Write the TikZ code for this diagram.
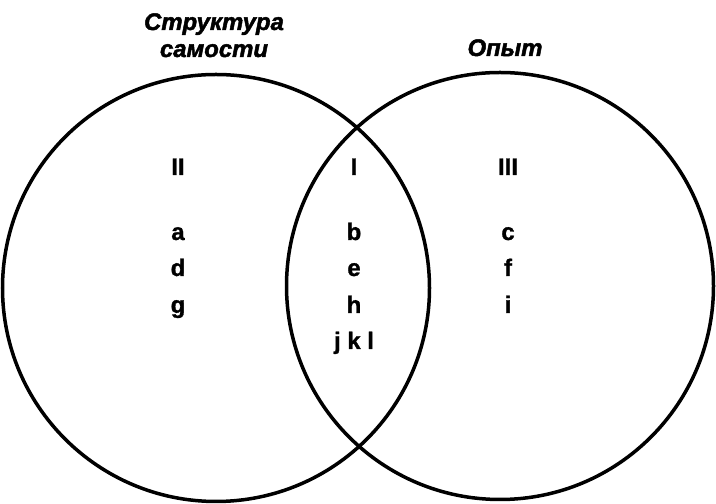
\documentclass[tikz,border=0pt]{standalone}
\usepackage{fontspec}
\setmainfont{Liberation Sans}
\newfontfamily\lblfont[FakeBold=1.2]{Liberation Sans Bold}
\newfontfamily\ttlfont[FakeBold=2]{Liberation Sans Bold Italic}

\tikzset{
  lbl/.style={font=\lblfont\fontsize{24}{28}\selectfont, anchor=base, inner sep=0pt},
  ttl/.style={font=\ttlfont\fontsize{24}{28}\selectfont, anchor=base, inner sep=0pt},
  ring/.style={line width=3.5bp}
}

\begin{document}
\begin{tikzpicture}[x=1bp,y=1bp]
\useasboundingbox (0,0) rectangle (716,504);

\draw[ring] (216,216) circle (213.5);
\draw[ring] (500,218) circle (213.5);

\node[ttl] (selfa) at (214,474) {Структура};
\node[ttl] (selfb) at (214,447) {самости};
\node[ttl] (exp) at (505,448) {Опыт};

\node[lbl] (two) at (178,329) {II};
\node[lbl] (one) at (354,329) {I};
\node[lbl] (three) at (508,329) {III};

\node[lbl] (a) at (178,264) {a};
\node[lbl] (d) at (178,228) {d};
\node[lbl] (g) at (178,191) {g};

\node[lbl] (b) at (354,264) {b};
\node[lbl] (e) at (354,228) {e};
\node[lbl] (h) at (354,191) {h};
\node[lbl] (jkl) at (354,155) {j k l};

\node[lbl] (c) at (508,264) {c};
\node[lbl] (f) at (508,228) {f};
\node[lbl] (i) at (508,191) {i};

\end{tikzpicture}
\end{document}
